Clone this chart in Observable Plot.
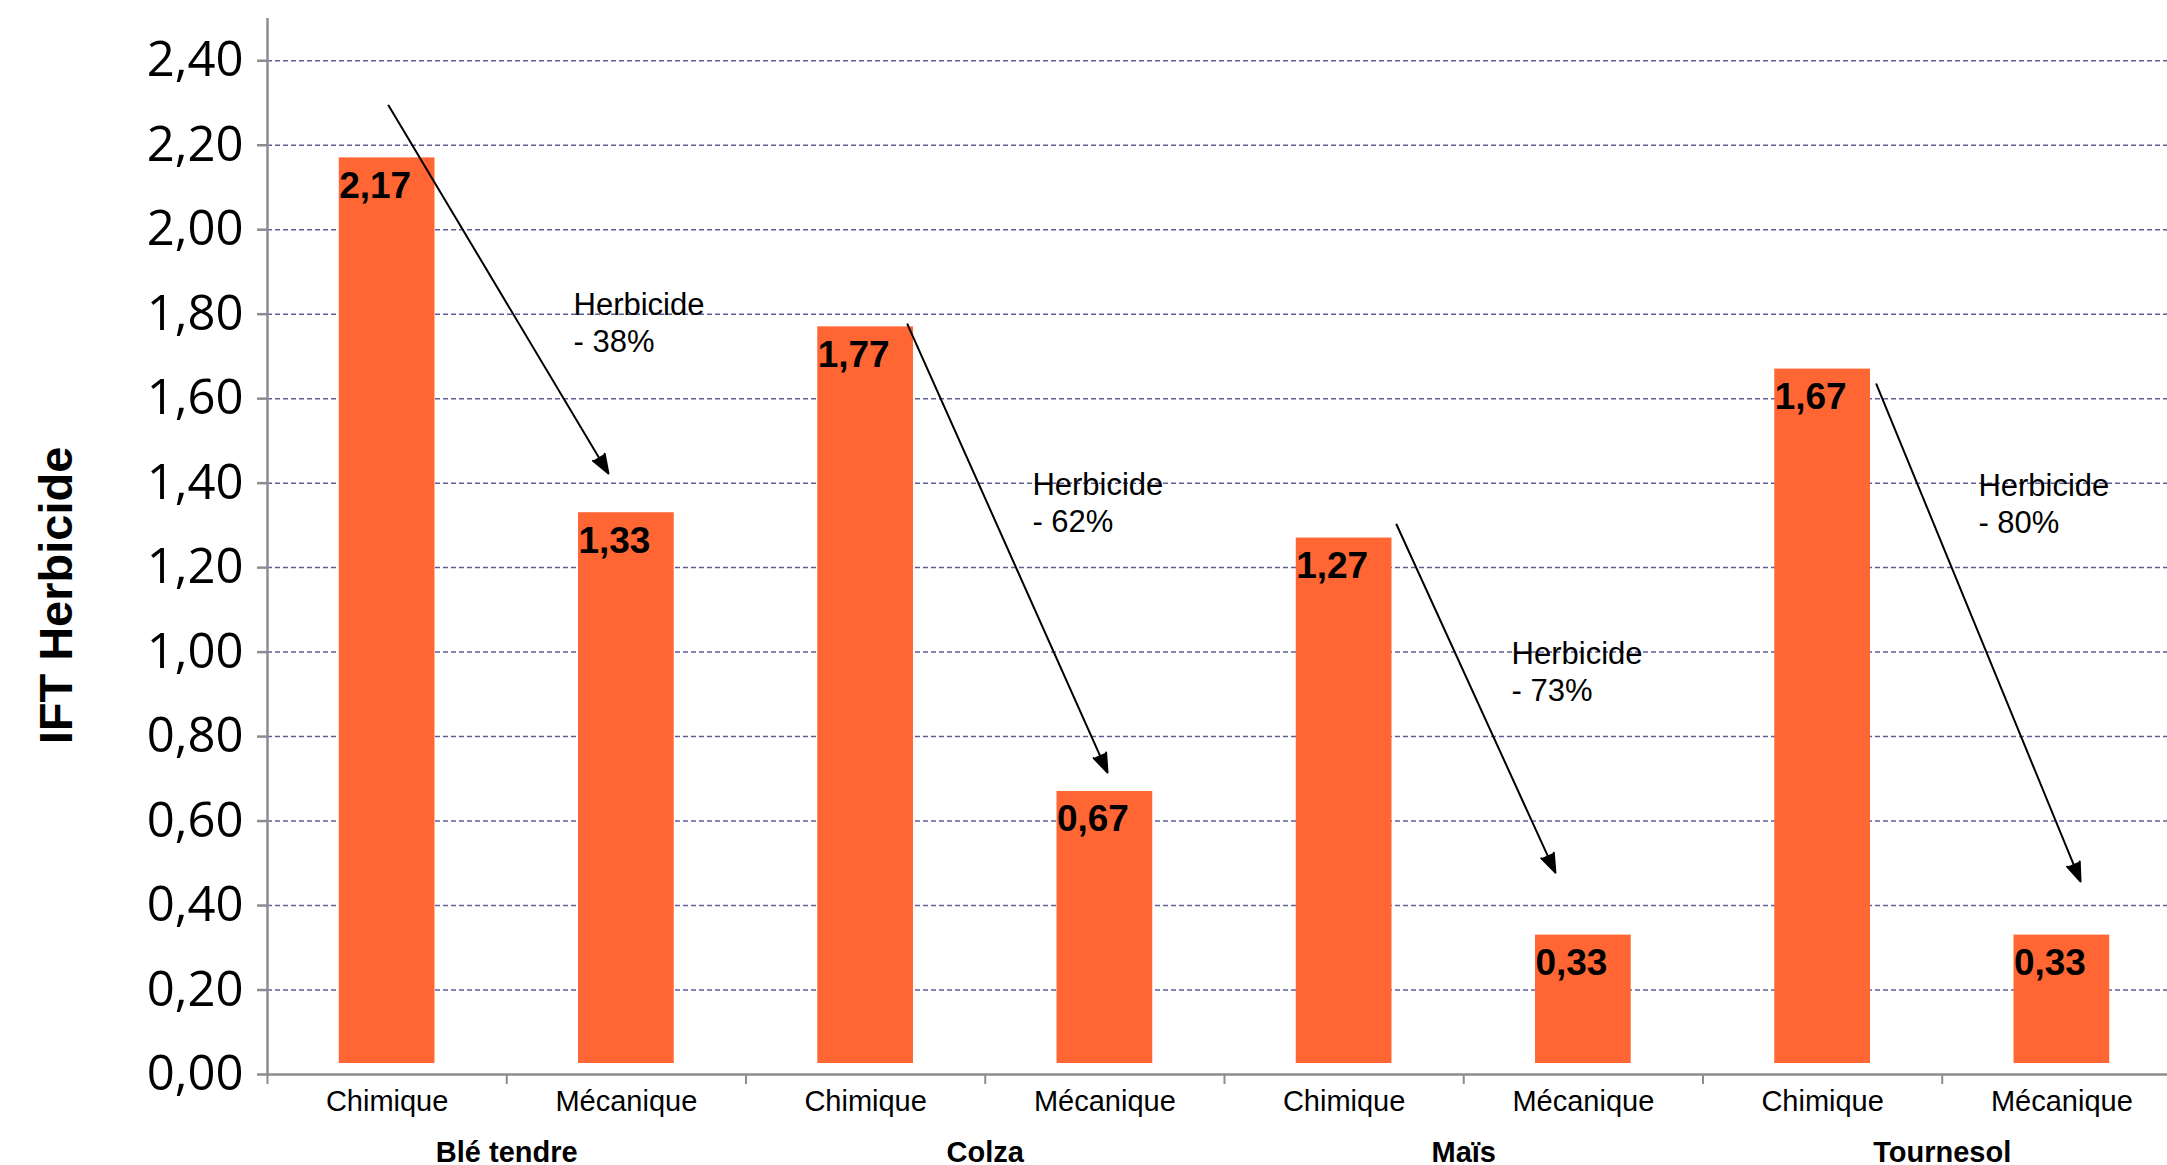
<!DOCTYPE html>
<html>
<head>
<meta charset="utf-8">
<script src="https://cdn.jsdelivr.net/npm/d3@7"></script>
<script src="https://cdn.jsdelivr.net/npm/@observablehq/plot@0.6"></script>
<style>
  html, body { margin: 0; padding: 0; overflow: hidden; background: #ffffff; }
  #chart svg { max-width: none !important; }
</style>
</head>
<body>
<div id="chart"></div>
<script>
// ---- data ----
const crops = ["Blé tendre", "Colza", "Maïs", "Tournesol"];
const methods = ["Chimique", "Mécanique", "Chimique", "Mécanique", "Chimique", "Mécanique", "Chimique", "Mécanique"];
const values = [2.17, 1.33, 1.77, 0.67, 1.27, 0.33, 1.67, 0.33];
const yTicks = [0, 0.2, 0.4, 0.6, 0.8, 1.0, 1.2, 1.4, 1.6, 1.8, 2.0, 2.2, 2.4];
const yLabel = "IFT Herbicide";
const noteTexts = ["Herbicide\n- 38%", "Herbicide\n- 62%", "Herbicide\n- 73%", "Herbicide\n- 80%"];
// annotation anchors in data units (x = category slot, y = IFT value)
const arrowX1 = [0.506, 2.675, 4.719, 6.725];
const arrowY1 = [2.294, 1.776, 1.302, 1.634];
const arrowX2 = [1.425, 3.511, 5.383, 7.578];
const arrowY2 = [1.423, 0.715, 0.478, 0.457];
const noteX = [1.279, 3.197, 5.200, 7.151];
const noteY = [1.861, 1.435, 1.035, 1.432];

// ---- derived table ----
const bars = values.map((v, i) => ({i, method: methods[i], crop: crops[Math.floor(i / 2)], value: v}));
const notes = noteTexts.map((t, i) => ({i, text: t}));
const fmt = v => v.toFixed(2).replace(".", ",");

const HALF = 0.2;                 // half bar width, in slot units
const sans = "'Liberation Sans', Arial, Helvetica, sans-serif";
const axisGray = "#8c8c8c";

const chart = Plot.plot({
  width: 2181,
  height: 1200,
  marginLeft: 267,
  marginRight: 0,
  marginTop: 18,
  marginBottom: 126,
  style: {background: "#ffffff", color: "#000000", maxWidth: "none"},
  x: {type: "linear", domain: [0, methods.length]},
  y: {domain: [0, 2.5]},
  marks: [
    // grid
    Plot.ruleY(yTicks.filter(d => d > 0), {stroke: "#5f5f98", strokeWidth: 1.5, strokeDasharray: "5,3"}),
    // bars
    Plot.rectY(bars, {
      x1: d => d.i + 0.5 - HALF,
      x2: d => d.i + 0.5 + HALF,
      y1: 0,
      y2: "value",
      fill: "#ff6633",
      insetBottom: 11
    }),
    // axes lines
    Plot.ruleX([0], {stroke: axisGray, strokeWidth: 2.5}),
    Plot.ruleY([0], {stroke: axisGray, strokeWidth: 2.5}),
    Plot.axisY({
      ticks: yTicks,
      tickFormat: fmt,
      tickSize: 10,
      tickPadding: 14,
      stroke: axisGray,
      strokeWidth: 2.5,
      fill: "#000000",
      fontSize: 49,
      fontFamily: "'Open Sans', sans-serif",
      label: null
    }),
    // category boundary ticks
    Plot.axisX({
      ticks: d3.range(0, methods.length + 1),
      tickFormat: () => "",
      tickSize: 10,
      stroke: axisGray,
      strokeWidth: 2,
      label: null
    }),
    // method labels
    Plot.axisX({
      ticks: methods.map((_, i) => i + 0.5),
      tickFormat: d => methods[Math.floor(d)],
      tickSize: 0,
      tickPadding: 16,
      fill: "#000000",
      fontSize: 29,
      fontFamily: sans,
      label: null
    }),
    // crop group labels
    Plot.text(crops, {
      x: (d, i) => 2 * i + 1,
      frameAnchor: "bottom",
      dy: 87,
      lineAnchor: "bottom",
      text: d => d,
      fontSize: 29,
      fontWeight: "bold",
      fontFamily: sans,
      fill: "#000000"
    }),
    // y axis title
    Plot.text([yLabel], {
      frameAnchor: "left",
      rotate: -90,
      dx: -196,
      dy: 49,
      textAnchor: "middle",
      lineAnchor: "bottom",
      text: d => d,
      fontSize: 47,
      fontWeight: "bold",
      fontFamily: sans,
      fill: "#000000"
    }),
    // value labels
    Plot.text(bars, {
      x: d => d.i + 0.5,
      y: "value",
      text: d => fmt(d.value),
      textAnchor: "start",
      lineAnchor: "bottom",
      dx: -48,
      dy: 40,
      fontSize: 37,
      fontWeight: "bold",
      fontFamily: sans,
      fill: "#000000"
    }),
    // arrows
    Plot.arrow(notes, {
      x1: d => arrowX1[d.i],
      y1: d => arrowY1[d.i],
      x2: d => arrowX2[d.i],
      y2: d => arrowY2[d.i],
      stroke: "#000000",
      fill: "#000000",
      strokeWidth: 2,
      headLength: 15,
      headAngle: 40
    }),
    // arrow notes
    Plot.text(notes, {
      x: d => noteX[d.i],
      y: d => noteY[d.i],
      text: "text",
      textAnchor: "start",
      lineAnchor: "top",
      lineHeight: 1.2,
      fontSize: 31,
      fontFamily: sans,
      fill: "#000000"
    })
  ]
});

document.getElementById("chart").appendChild(chart);
</script>
</body>
</html>
